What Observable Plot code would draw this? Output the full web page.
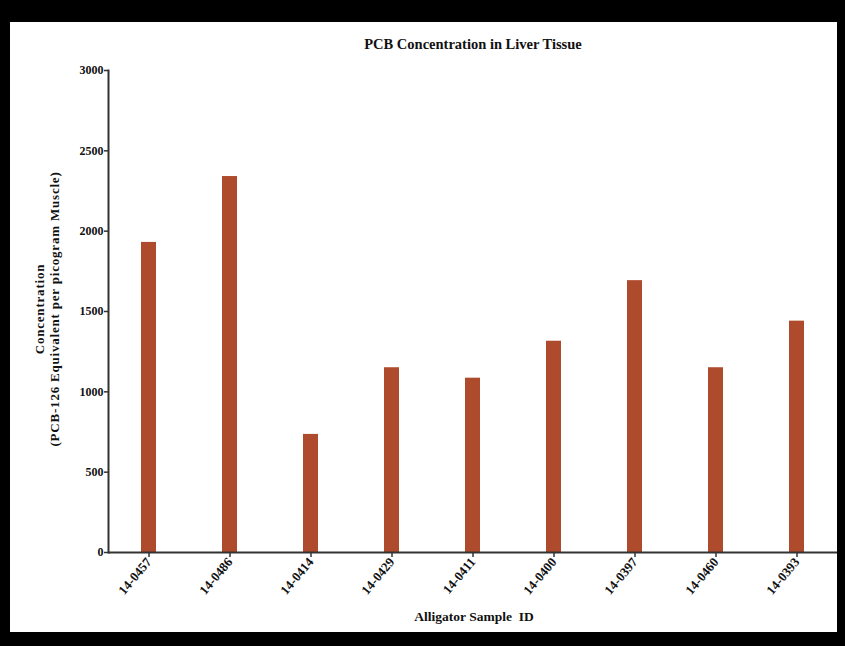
<!DOCTYPE html>
<html>
<head>
<meta charset="utf-8">
<script src="https://cdn.jsdelivr.net/npm/d3@7"></script>
<script src="https://cdn.jsdelivr.net/npm/@observablehq/plot@0.6"></script>
<style>
  html, body { margin: 0; padding: 0; background: #000; width: 845px; height: 646px; overflow: hidden; }
  #page { position: relative; width: 845px; height: 646px; background: #000; font-family: "Liberation Serif", "DejaVu Serif", serif; }
  #chart { position: absolute; left: 10px; top: 22px; width: 827px; height: 610px; background: #fff; }
  .lbl { position: absolute; font-weight: bold; color: #111; white-space: nowrap; }
</style>
</head>
<body>
<div id="page">
  <div id="chart"></div>
  <div class="lbl" id="title" style="left:473px; top:44px; transform:translate(-50%,-50%); font-size:14.5px;">PCB Concentration in Liver Tissue</div>
  <div class="lbl" id="xlabel" style="left:474px; top:617px; transform:translate(-50%,-50%); font-size:13.5px; white-space:pre;">Alligator Sample  ID</div>
  <div class="lbl" id="ylabel" style="left:47px; top:309px; transform:translate(-50%,-50%) rotate(-90deg); font-size:13px; letter-spacing:0.8px; text-align:center; line-height:15px;">Concentration<br>(PCB-126 Equivalent per picogram Muscle)</div>
</div>
<script>
const samples = ["14-0457", "14-0486", "14-0414", "14-0429", "14-0411", "14-0400", "14-0397", "14-0460", "14-0393"];
const concentrations = [1930, 2340, 735, 1150, 1085, 1315, 1692, 1150, 1440];
const yTicks = [0, 500, 1000, 1500, 2000, 2500, 3000];

const data = samples.map((s, i) => ({sample: s, value: concentrations[i]}));

const plot = Plot.plot({
  width: 827,
  height: 610,
  marginLeft: 98,
  marginRight: 0,
  marginTop: 48,
  marginBottom: 80,
  style: {background: "#fff", fontFamily: "Liberation Serif, serif", color: "#111"},
  x: {domain: samples, paddingInner: 0.81, paddingOuter: 0.4, label: null},
  y: {domain: [0, 3000], label: null},
  marks: [
    Plot.barY(data, {x: "sample", y: "value", fill: "#ae4b2d"}),
    Plot.axisY({ticks: yTicks, tickFormat: d3.format("d"), tickSize: 4, tickPadding: 1, fontSize: 12, fontWeight: "bold", stroke: "#333", strokeWidth: 1.5, label: null}),
    Plot.axisX({tickSize: 5, tickPadding: 2, tickRotate: -50, fontSize: 13, fontWeight: "bold", stroke: "#333", strokeWidth: 1.5, label: null}),
    Plot.frame({anchor: "left", stroke: "#333", strokeWidth: 2}),
    Plot.ruleY([0], {stroke: "#333", strokeWidth: 2})
  ]
});
document.getElementById("chart").appendChild(plot);
</script>
</body>
</html>
